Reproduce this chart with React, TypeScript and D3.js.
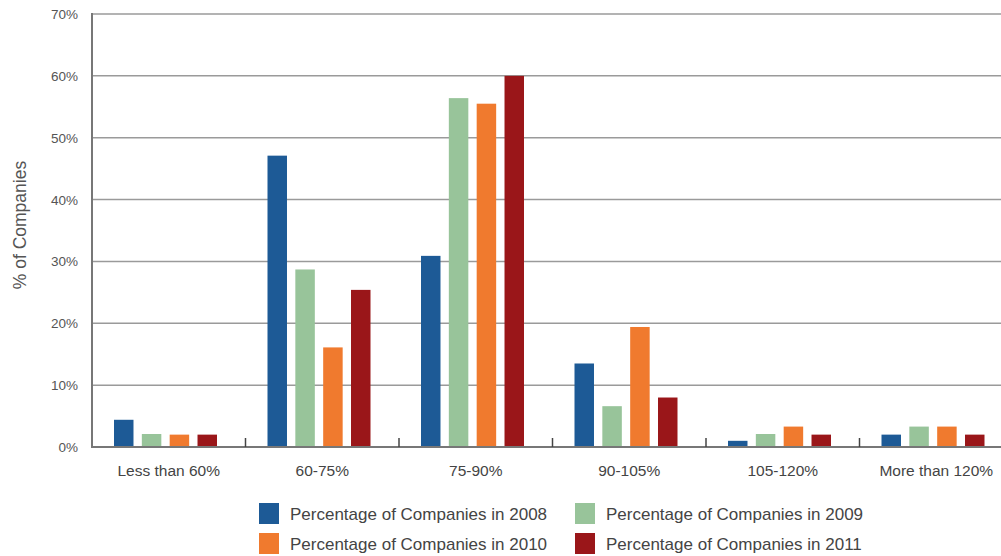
import React from "react";
import * as d3 from "d3";

const categories = ["Less than 60%", "60-75%", "75-90%", "90-105%", "105-120%", "More than 120%"];
const seriesNames = [
  "Percentage of Companies in 2008",
  "Percentage of Companies in 2009",
  "Percentage of Companies in 2010",
  "Percentage of Companies in 2011",
];
const values2008 = [4.4, 47.1, 30.9, 13.5, 1.0, 2.0];
const values2009 = [2.1, 28.7, 56.4, 6.6, 2.1, 3.3];
const values2010 = [2.0, 16.1, 55.5, 19.4, 3.3, 3.3];
const values2011 = [2.0, 25.4, 60.0, 8.0, 2.0, 2.0];
const yTicks = [0, 10, 20, 30, 40, 50, 60, 70];
const colors = ["#1d5a96", "#98c49a", "#f07a2e", "#9a1619"];

const seriesValues = [values2008, values2009, values2010, values2011];

export default function App() {
  const W = 1001;
  const H = 556;
  const left = 92;
  const top = 14;
  const bottom = 447;
  const x0 = d3.scaleBand<string>().domain(categories).range([left, 1013]).padding(0);
  const bw = x0.bandwidth();
  const x1 = d3.scaleBand<string>().domain(seriesNames).range([22, 125]).paddingInner(0.3);
  const y = d3.scaleLinear().domain([0, 70]).range([bottom, top]);
  const font = "'Liberation Sans', Arial, Helvetica, sans-serif";

  return (
    <svg width={W} height={H} style={{ position: "absolute", left: 0, top: 0, background: "#fff" }} fontFamily={font}>
      <rect x={0} y={0} width={W} height={H} fill="#fff" />
      {yTicks.map((t) => (
        <line key={"g" + t} x1={left} x2={W} y1={y(t)} y2={y(t)} stroke="#9a9a9a" strokeWidth={1.5} />
      ))}
      {yTicks.map((t) => (
        <text key={"yl" + t} x={78} y={y(t) + 5} textAnchor="end" fontSize={13.5} fill="#555">
          {t + "%"}
        </text>
      ))}
      <text
        transform={`translate(26, 225) rotate(-90)`}
        textAnchor="middle"
        fontSize={17.5}
        fill="#555"
      >
        % of Companies
      </text>
      {categories.map((c, ci) => (
        <g key={c} transform={`translate(${x0(c)},0)`}>
          {seriesNames.map((s, si) => {
            const v = seriesValues[si][ci];
            return (
              <rect
                key={s}
                x={x1(s)}
                y={y(v)}
                width={x1.bandwidth()}
                height={bottom - y(v)}
                fill={colors[si]}
              />
            );
          })}
        </g>
      ))}
      <line x1={left} x2={left} y1={top - 1} y2={bottom + 1} stroke="#777" strokeWidth={2} />
      <line x1={left - 1} x2={W} y1={bottom} y2={bottom} stroke="#777" strokeWidth={2} />
      {categories.slice(1).map((c) => (
        <line key={"t" + c} x1={x0(c)} x2={x0(c)} y1={bottom} y2={bottom - 9} stroke="#444" strokeWidth={1.5} />
      ))}
      {categories.map((c) => (
        <text key={"xl" + c} x={(x0(c) as number) + bw / 2} y={476} textAnchor="middle" fontSize={15.5} fill="#444">
          {c}
        </text>
      ))}
      {seriesNames.map((s, i) => {
        const col = i % 2;
        const row = Math.floor(i / 2);
        const lx = 259 + col * 316;
        const ly = 503 + row * 30;
        return (
          <g key={"lg" + s}>
            <rect x={lx} y={ly} width={20} height={21} fill={colors[i]} />
            <text x={lx + 31} y={ly + 17} fontSize={17} fill="#444">
              {s}
            </text>
          </g>
        );
      })}
    </svg>
  );
}
